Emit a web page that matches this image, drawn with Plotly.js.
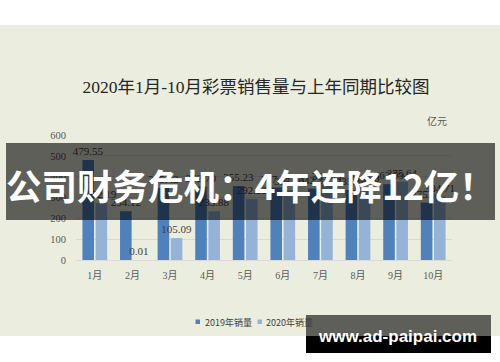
<!DOCTYPE html>
<html>
<head>
<meta charset="utf-8">
<script src="https://cdn.plot.ly/plotly-3.0.1.min.js"></script>
<style>html,body{margin:0;padding:0;background:#fff;}#chart{width:500px;height:362px;}</style>
</head>
<body>
<div id="chart"></div>
<script>
// ---- data ----
const months = ["1月","2月","3月","4月","5月","6月","7月","8月","9月","10月"];
const sales2019 = [479.55, 234.12, 345.42, 352.70, 355.23, 347.67, 342.34, 335.50, 363.99, 275.50];
const sales2020 = [272.19, 0.01, 105.09, 233.88, 292.22, 335.60, 361.49, 348.50, 375.64, 304.71];
const seriesNames = ["2019年销量", "2020年销量"];
const chartTitle = "2020年1月-10月彩票销售量与上年同期比较图";
const unitLabel = "亿元";
const bannerText = "公司财务危机：4年连降12亿！";
const watermarkText = "www.ad-paipai.com";

// ---- styling ----
const c2019 = "#4f81bd", c2020 = "#95b3d7";
const L = 76, R = 452, T = 135, B = 260;
const px = v => (v - L) / (R - L);
const py = v => (B - v) / (B - T);
const serif = "Liberation Serif, Noto Sans CJK SC, serif";
const cjk = "Noto Sans CJK SC, sans-serif";

const fmt = a => a.map(v => v.toFixed(2));
const traces = [
  {type:"bar", x:months, y:sales2019, name:seriesNames[0], marker:{color:c2019},
   text:fmt(sales2019), textposition:"outside", constraintext:"none", cliponaxis:false,
   textfont:{family:serif, size:11, color:"#404040"}, showlegend:false, hoverinfo:"none"},
  {type:"bar", x:months, y:sales2020, name:seriesNames[1], marker:{color:c2020},
   text:fmt(sales2020), textposition:"outside", constraintext:"none", cliponaxis:false,
   textfont:{family:serif, size:11, color:"#404040"}, showlegend:false, hoverinfo:"none"}
];

const shapes = [
  {type:"rect", xref:"paper", yref:"paper", layer:"below", x0:px(0), x1:px(500), y0:py(336), y1:py(25),
   fillcolor:"rgb(235,238,222)", line:{width:0}},
  {type:"rect", xref:"paper", yref:"paper", layer:"above", x0:px(6), x1:px(495), y0:py(220), y1:py(143),
   fillcolor:"rgba(0,0,0,0.6)", line:{width:0}},
  {type:"rect", xref:"paper", yref:"paper", layer:"above", x0:px(306), x1:px(491), y0:py(336), y1:py(315),
   fillcolor:"rgba(0,0,0,0.6)", line:{width:0}},
  {type:"rect", xref:"paper", yref:"paper", layer:"above", x0:px(306), x1:px(491), y0:py(353), y1:py(336),
   fillcolor:"#000", line:{width:0}},
  {type:"rect", xref:"paper", yref:"paper", layer:"below", x0:px(195.5), x1:px(200), y0:py(324), y1:py(319.5),
   fillcolor:c2019, line:{width:0}},
  {type:"rect", xref:"paper", yref:"paper", layer:"below", x0:px(257.5), x1:px(262), y0:py(324), y1:py(319.5),
   fillcolor:c2020, line:{width:0}}
];

const ann = (text, x, y, xa, font) => ({text, xref:"paper", yref:"paper", x:px(x), y:py(y),
  xanchor:xa, yanchor:"middle", showarrow:false, font});
const annotations = [
  ann(unitLabel, 437, 120.5, "center", {family:cjk, size:10, color:"#595959"}),
  ann(seriesNames[0], 202.5, 322, "left", {family:cjk, size:9, color:"#404040"}),
  ann(seriesNames[1], 264, 322, "left", {family:cjk, size:9, color:"#404040"}),
  ann(bannerText, 250.5, 184.5, "center", {family:cjk, size:35.5, color:"#ffffff", weight:700}),
  ann(watermarkText, 397.5, 336.5, "center", {family:"Liberation Sans, Arial, sans-serif", size:17, color:"#ffffff", weight:700})
];

const layout = {
  width:500, height:362,
  margin:{l:L, r:500-R, t:T, b:362-B, pad:0},
  paper_bgcolor:"#ffffff", plot_bgcolor:"rgba(0,0,0,0)",
  title:{text:chartTitle, x:256/500, xanchor:"center", y:1-87/362, yanchor:"middle",
         font:{family:serif, size:17.5, color:"#262626"}},
  barmode:"group", bargap:0.3, bargroupgap:0.12,
  showlegend:false,
  xaxis:{type:"category", showgrid:false, showline:false, zeroline:false, ticks:"",
         tickfont:{family:serif, size:10, color:"#595959"}, ticklabelstandoff:8, fixedrange:true},
  yaxis:{range:[0,600], dtick:100, tick0:0, showgrid:true, gridcolor:"#d9d9d9", gridwidth:1,
         zeroline:true, zerolinecolor:"#d9d9d9", zerolinewidth:1, showline:false, ticks:"",
         tickfont:{family:serif, size:10.5, color:"#595959"}, ticklabelstandoff:9, fixedrange:true},
  shapes:shapes, annotations:annotations
};

Plotly.newPlot("chart", traces, layout, {displayModeBar:false, staticPlot:true});
</script>
</body>
</html>
